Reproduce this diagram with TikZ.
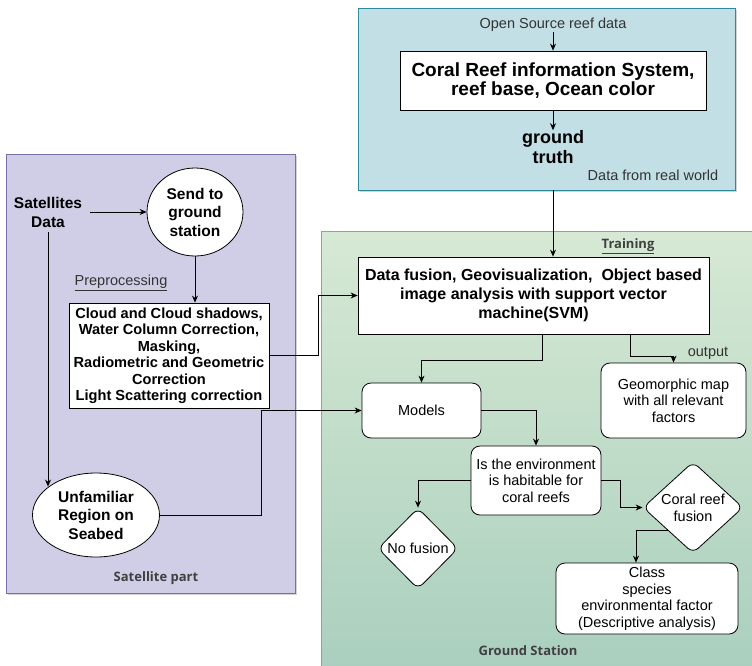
\documentclass[tikz,border=0pt]{standalone}
\usepackage{fontspec}
\setmainfont{Liberation Sans}
\newfontfamily\lblfont{Open Sans}
\usetikzlibrary{shapes.geometric,arrows.meta,shadows}
\definecolor{bluefill}{HTML}{C2DFE5}
\definecolor{blueline}{HTML}{2E8A98}
\definecolor{purplefill}{HTML}{D0CEE6}
\definecolor{purpleline}{HTML}{7670A8}
\definecolor{greentop}{HTML}{D6E9D4}
\definecolor{greenbot}{HTML}{AACFBE}
\definecolor{greenline}{HTML}{82B366}
\definecolor{txtgray}{HTML}{333333}
\newcommand\fsz[2]{\fontsize{#1}{#2}\selectfont}

\begin{document}
\begin{tikzpicture}[x=1pt,y=-1pt]
  \tikzstyle{panel} = [draw, line width=0.8pt, inner sep=0pt, drop shadow={shadow xshift=2pt, shadow yshift=-2pt, opacity=0.35}]
  \tikzstyle{box} = [draw=black, fill=white, line width=0.8pt, align=center, inner sep=0pt]
  \tikzstyle{rbox} = [box, rounded corners=9pt, font=\fsz{14.5}{16.5}]
  \tikzstyle{ell} = [ellipse, draw=black, fill=white, line width=0.8pt, align=center, inner sep=0pt, font=\bfseries\fsz{15.5}{18.5}]
  \tikzstyle{dia} = [diamond, draw=black, fill=white, line width=0.8pt, align=center, inner sep=0pt, rounded corners=7pt, font=\fsz{14.5}{17}]
  \tikzstyle{lbl} = [text=txtgray, inner sep=0pt, align=center]
  \tikzstyle{part} = [lbl, font=\lblfont\bfseries\fsz{13}{16}, text=black!75]
  \tikzstyle{arr} = [-{Stealth[length=7pt,width=6pt]}, line width=0.8pt]

  \useasboundingbox (0,0) rectangle (752,665);

  % containers
  \node[panel, draw=greenline, top color=greentop, bottom color=greenbot, minimum width=440pt, minimum height=442pt] (ground) at (541,452) {};
  \node[panel, draw=purpleline, fill=purplefill, minimum width=289pt, minimum height=439pt] (sat) at (150.5,373.5) {};
  \node[panel, draw=blueline, fill=bluefill, minimum width=377pt, minimum height=182pt] (ocean) at (546.5,99) {};

  % real world data
  \node[lbl, font=\fsz{14.5}{17}] (src) at (553,25) {Open Source reef data};
  \node[box, font=\bfseries\fsz{19}{19}, minimum width=306pt, minimum height=59pt] (coral) at (553,80.5) {Coral Reef information System,\\reef base, Ocean color};
  \node[inner sep=0pt, align=center, font=\bfseries\fsz{18}{20}] (truth) at (553,147) {ground\\truth};
  \node[lbl, font=\fsz{14.5}{17}] (world) at (653,175) {Data from real world};

  % satellite part
  \node[inner sep=0pt, align=center, font=\bfseries\fsz{15.5}{19}] (satdata) at (48,212) {Satellites\\Data};
  \node[ell, minimum width=96pt, minimum height=88pt] (send) at (195,212) {Send to\\ground\\station};
  \node[lbl, font=\fsz{14.5}{17}] (pre) at (121,283) {\underline{Preprocessing}};
  \node[box, font=\bfseries\fsz{14.6}{16.5}, minimum width=200pt, minimum height=105pt] (prep) at (169,355.5) {Cloud and Cloud shadows,\\Water Column Correction,\\Masking,\\Radiometric and Geometric\\Correction\\Light Scattering correction};
  \node[ell, minimum width=127pt, minimum height=84pt] (unfam) at (96,515) {Unfamiliar\\Region on\\Seabed};
  \node[part] (satpart) at (156,578) {Satellite part};

  % ground station
  \node[part] (train) at (628,246) {\underline{Training}};
  \node[box, font=\bfseries\fsz{16}{19}, minimum width=351pt, minimum height=77pt] (fusion) at (533.5,295.5) {Data fusion, Geovisualization,~ Object based\\image analysis with support vector\\machine(SVM)};
  \node[rbox, minimum width=119pt, minimum height=55pt] (models) at (421.5,410.5) {Models};
  \node[rbox, minimum width=145pt, minimum height=75pt] (geo) at (673.5,400.5) {Geomorphic map\\with all relevant\\factors};
  \node[lbl, font=\fsz{14.5}{17}] (out) at (708,353) {output};
  \node[rbox, minimum width=130pt, minimum height=69pt] (hab) at (536,480.5) {Is the environment\\is habitable for\\coral reefs};
  \node[dia, minimum width=80pt, minimum height=81pt] (nofus) at (418,548.5) {No fusion};
  \node[dia, minimum width=100pt, minimum height=91pt] (crf) at (693,507.5) {Coral reef\\fusion};
  \node[rbox, minimum width=182pt, minimum height=71pt] (cls) at (647,598.5) {Class\\species\\environmental factor\\(Descriptive analysis)};
  \node[part] (gs) at (528,651) {Ground Station};

  \draw[arr] (src) -- (coral);
  \draw[arr] (coral) -- (truth);
  \draw[arr] (coral.south |- ocean.south) -- (coral.south |- fusion.north);

  \draw[arr, shorten <=8pt] (satdata) -- (send);
  \draw[arr, shorten <=5pt] (satdata.south) -- (satdata.south |- unfam.149);
  \draw[arr] (send.south) -- (send.south |- prep.north);
  \draw[arr] (prep.east) -- ++(49,0) |- (fusion.west);
  \draw[arr] (unfam.east) -- ++(101,0) |- (models.west);

  \draw[arr] ([xshift=8.5pt]fusion.south) -- ++(0,26) -| (models.north);
  \draw[arr] ([xshift=96.5pt]fusion.south) -- ++(0,22) -| (geo.north);
  \draw[arr] (models.east) -| (hab.north);
  \draw[arr] (hab.west) -| (nofus.north);
  \draw[arr] (hab.east) -- ++(19,0) |- (crf.west);
  \draw[arr] (crf.south west) -| ([xshift=-11pt]cls.north);
\end{tikzpicture}
\end{document}
